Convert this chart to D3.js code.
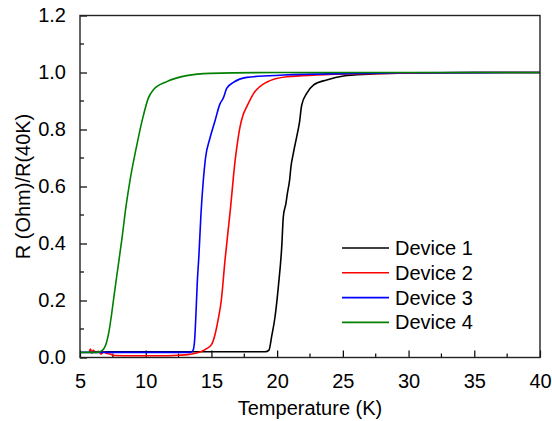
<!DOCTYPE html>
<html>
<head>
<meta charset="utf-8">
<script src="https://cdn.jsdelivr.net/npm/d3@7"></script>
<style>
  body { margin: 0; background: #fff; }
  text { font-family: Arial, "Liberation Sans", sans-serif; fill: #000; }
</style>
</head>
<body>
<script>
// data
var deviceNames = ["Device 1", "Device 2", "Device 3", "Device 4"];
var deviceColors = ["#000000", "#ff0000", "#0000ff", "#008000"];

var t1 = [6, 10, 14, 18, 19.1, 19.38, 19.58, 19.84, 20.09, 20.35, 20.47, 20.67, 20.78, 20.95, 21.05, 21.23, 21.49, 21.69, 21.87, 22.25, 22.76, 23.77, 25.04, 27, 30, 35, 40];
var r1 = [0.02, 0.02, 0.02, 0.02, 0.02, 0.026, 0.073, 0.143, 0.248, 0.389, 0.494, 0.541, 0.576, 0.623, 0.669, 0.716, 0.775, 0.822, 0.886, 0.927, 0.956, 0.974, 0.988, 0.994, 0.998, 1.0, 1.0];

var t2 = [5.7, 5.8, 5.9, 6.0, 6.2, 6.4, 6.6, 6.8, 7.0, 7.3, 7.6, 9, 11, 12.5, 13.2, 13.6, 14.13, 14.6, 15.0, 15.27, 15.5, 15.75, 16.03, 16.42, 16.8, 17.0, 17.18, 17.4, 17.69, 18.19, 19.2, 20.73, 23, 27, 32, 40];
var r2 = [0.02, 0.03, 0.015, 0.025, 0.018, 0.022, 0.012, 0.02, 0.015, 0.012, 0.007, 0.006, 0.006, 0.008, 0.01, 0.013, 0.019, 0.03, 0.045, 0.08, 0.13, 0.2, 0.34, 0.51, 0.69, 0.76, 0.81, 0.85, 0.88, 0.925, 0.966, 0.985, 0.991, 0.996, 0.999, 1.0];

var t3 = [5, 8, 11, 13.4, 13.6, 13.72, 13.82, 13.92, 14.05, 14.2, 14.38, 14.55, 14.89, 15.27, 15.65, 15.9, 16.16, 16.67, 17.69, 20.5, 25, 30, 40];
var r3 = [0.018, 0.018, 0.018, 0.018, 0.025, 0.06, 0.15, 0.26, 0.36, 0.5, 0.62, 0.7, 0.77, 0.83, 0.89, 0.91, 0.944, 0.965, 0.983, 0.991, 0.996, 0.999, 1.0];

var t4 = [5, 6.3, 6.6, 6.8, 7.0, 7.2, 7.4, 7.6, 7.9, 8.2, 8.5, 8.8, 9.3, 9.8, 10.2, 10.6, 11.6, 13.1, 14.9, 20, 40];
var r4 = [0.018, 0.018, 0.022, 0.03, 0.05, 0.09, 0.15, 0.22, 0.32, 0.42, 0.53, 0.62, 0.74, 0.845, 0.91, 0.94, 0.968, 0.989, 0.997, 1.0, 1.0];

var xTicks = [5, 10, 15, 20, 25, 30, 35, 40];
var yTicks = [0.0, 0.2, 0.4, 0.6, 0.8, 1.0, 1.2];

var temps = [t1, t2, t3, t4];
var ratios = [r1, r2, r3, r4];

var width = 552, height = 421;
var margin = {top: 15.5, right: 12, bottom: 63.5, left: 80};
var w = width - margin.left - margin.right;
var h = height - margin.top - margin.bottom;

var svg = d3.select('body').append('svg')
  .attr('width', width)
  .attr('height', height);

var g = svg.append('g')
  .attr('transform', 'translate(' + margin.left + ',' + margin.top + ')');

var xScale = d3.scaleLinear().domain([5, 40]).range([0, w]);
var yScale = d3.scaleLinear().domain([0, 1.2]).range([h, 0]);

// minor ticks (inward)
var xMinor = d3.range(5, 40.01, 2.5).filter(function(d) { return xTicks.indexOf(d) < 0; });
var yMinor = d3.range(0.1, 1.2, 0.2);

g.selectAll('.xminor').data(xMinor).enter().append('line')
  .attr('x1', function(d) { return xScale(d); })
  .attr('x2', function(d) { return xScale(d); })
  .attr('y1', h).attr('y2', h - 4)
  .attr('stroke', '#000').attr('stroke-width', 1.2);

g.selectAll('.yminor').data(yMinor).enter().append('line')
  .attr('y1', function(d) { return yScale(d); })
  .attr('y2', function(d) { return yScale(d); })
  .attr('x1', 0).attr('x2', 4)
  .attr('stroke', '#000').attr('stroke-width', 1.2);

// x axis
var xAxis = g.append('g')
  .attr('transform', 'translate(0,' + h + ')')
  .call(d3.axisBottom(xScale).tickValues(xTicks).tickSizeInner(-7).tickSizeOuter(0).tickPadding(16).tickFormat(d3.format('d')));

// y axis
var yAxis = g.append('g')
  .call(d3.axisLeft(yScale).tickValues(yTicks).tickSizeInner(-7).tickSizeOuter(0).tickPadding(14).tickFormat(d3.format('.1f')));

[xAxis, yAxis].forEach(function(a) {
  a.select('.domain').remove();
  a.selectAll('line').attr('stroke', '#000').attr('stroke-width', 1.2);
  a.selectAll('text').style('font-size', '20px').attr('fill', '#000');
});

// curves
var line = d3.line()
  .x(function(d) { return xScale(d[0]); })
  .y(function(d) { return yScale(d[1]); })
  .curve(d3.curveMonotoneX);

g.append('defs').append('clipPath').attr('id', 'clip')
  .append('rect').attr('width', w).attr('height', h);

temps.forEach(function(t, i) {
  var pts = t.map(function(v, j) { return [v, ratios[i][j]]; });
  g.append('path')
    .attr('clip-path', 'url(#clip)')
    .attr('d', line(pts))
    .attr('fill', 'none')
    .attr('stroke', deviceColors[i])
    .attr('stroke-width', 1.6);
});

// frame
g.append('rect')
  .attr('width', w).attr('height', h)
  .attr('fill', 'none')
  .attr('stroke', '#222').attr('stroke-width', 1.4);

// axis titles
svg.append('text')
  .attr('x', margin.left + w / 2)
  .attr('y', 415)
  .attr('text-anchor', 'middle')
  .style('font-size', '20px')
  .text('Temperature (K)');

svg.append('text')
  .attr('transform', 'translate(30,' + (margin.top + h / 2) + ') rotate(-90)')
  .attr('text-anchor', 'middle')
  .style('font-size', '20px')
  .text('R (Ohm)/R(40K)');

// legend
var legend = svg.append('g').attr('transform', 'translate(342,248)');
deviceNames.forEach(function(name, i) {
  var row = legend.append('g').attr('transform', 'translate(0,' + (i * 24.8) + ')');
  row.append('line')
    .attr('x1', 0).attr('x2', 47)
    .attr('stroke', deviceColors[i]).attr('stroke-width', 1.6);
  row.append('text')
    .attr('x', 53).attr('y', 7)
    .style('font-size', '20px')
    .text(name);
});
</script>
</body>
</html>
